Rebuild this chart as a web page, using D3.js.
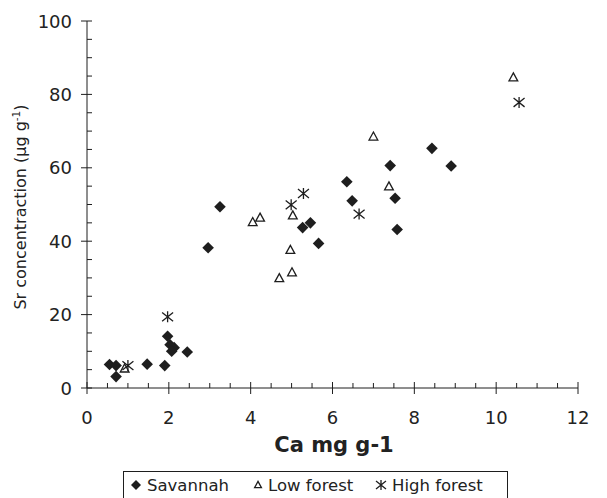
<!DOCTYPE html>
<html><head><meta charset="utf-8">
<script src="https://cdn.jsdelivr.net/npm/d3@7"></script>
<style>body{margin:0;background:#fff}svg{display:block}text{font-family:"DejaVu Sans",Verdana,sans-serif;fill:#222}</style>
</head><body><svg id="c" width="607" height="498"></svg>
<script>
const savannahCa = [0.55,0.71,0.71,1.47,1.90,1.97,2.03,2.13,2.07,2.45,2.96,3.25,5.27,5.46,5.66,6.35,6.48,7.41,7.53,7.58,8.43,8.90];
const savannahSr = [6.4,6.1,3.1,6.5,6.1,14.1,11.8,11.0,10.0,9.8,38.2,49.4,43.7,45.0,39.4,56.2,51.0,60.6,51.7,43.2,65.3,60.5];
const lowCa = [0.92,4.05,4.23,4.70,4.97,5.01,5.03,7.00,7.38,10.42];
const lowSr = [5.3,45.2,46.4,29.9,37.6,31.5,47.0,68.5,54.9,84.6];
const highCa = [1.00,1.97,4.99,5.29,6.65,10.56];
const highSr = [6.1,19.4,49.9,53.0,47.4,77.8];
const xTicks = [0,2,4,6,8,10,12];
const yTicks = [0,20,40,60,80,100];
const seriesNames = ["Savannah","Low forest","High forest"];

const svg = d3.select("#c");
const x = d3.scaleLinear().domain([0,12]).range([87,578]);
const y = d3.scaleLinear().domain([0,100]).range([388,21]);
const ink = "#1e1e1e";

// axes
const ax = svg.append("g").attr("stroke",ink).attr("stroke-width",1);
ax.append("line").attr("x1",x(0)).attr("x2",x(12)).attr("y1",y(0)).attr("y2",y(0));
ax.append("line").attr("x1",x(0)).attr("x2",x(0)).attr("y1",y(0)).attr("y2",y(100));
d3.range(0,12.01,0.5).forEach(v=>{
  const major = Math.abs(v%2)<1e-9;
  ax.append("line").attr("x1",x(v)).attr("x2",x(v))
    .attr("y1",major? y(0)-6 : y(0)-5).attr("y2",major? y(0)+6 : y(0));
});
d3.range(0,100.01,5).forEach(v=>{
  const major = v%20===0;
  ax.append("line").attr("y1",y(v)).attr("y2",y(v))
    .attr("x1",major? x(0)-6 : x(0)).attr("x2",x(0)+5);
});
svg.append("g").selectAll("text").data(xTicks).join("text")
  .attr("x",d=>x(d)).attr("y",y(0)+36).attr("text-anchor","middle")
  .attr("font-size",18).text(d=>d);
svg.append("g").selectAll("text").data(yTicks).join("text")
  .attr("x",x(0)-15).attr("y",d=>y(d)+6.5).attr("text-anchor","end")
  .attr("font-size",18).text(d=>d);

// titles
svg.append("text").attr("x",334).attr("y",452).attr("text-anchor","middle")
  .attr("font-size",21).attr("font-weight","bold").text("Ca mg g-1");
const yt = svg.append("text").attr("transform","translate(26,207) rotate(-90)")
  .attr("text-anchor","middle").attr("font-size",16);
yt.append("tspan").text("Sr concentraction (μg g");
yt.append("tspan").attr("font-size",10.5).attr("dy",-6).text("-1");
yt.append("tspan").attr("dy",6).text(")");

// markers
function diamond(g,cx,cy,r){g.append("path").attr("d",`M${cx},${cy-r}L${cx+r},${cy}L${cx},${cy+r}L${cx-r},${cy}Z`).attr("fill",ink);}
function tri(g,cx,cy,r){g.append("path").attr("d",`M${cx},${cy-r}L${cx+r*0.95},${cy+r*0.75}L${cx-r*0.95},${cy+r*0.75}Z`).attr("fill","#fff").attr("stroke",ink).attr("stroke-width",1.3);}
function star(g,cx,cy,r){g.append("path").attr("d",`M${cx},${cy-r}L${cx},${cy+r}M${cx-r},${cy-r*0.8}L${cx+r},${cy+r*0.8}M${cx-r},${cy+r*0.8}L${cx+r},${cy-r*0.8}`).attr("fill","none").attr("stroke",ink).attr("stroke-width",1.3);}

const mg = svg.append("g");
savannahCa.forEach((c,i)=>diamond(mg,x(c),y(savannahSr[i]),5.8));
lowCa.forEach((c,i)=>tri(mg,x(c),y(lowSr[i]),4.6));
highCa.forEach((c,i)=>star(mg,x(c),y(highSr[i]),5.5));

// legend
const lg = svg.append("g");
lg.append("rect").attr("x",123.5).attr("y",471.5).attr("width",384).attr("height",30)
  .attr("fill","#fff").attr("stroke",ink).attr("stroke-width",1);
const items = [{sx:136,tx:147,f:diamond,r:5},{sx:258,tx:268,f:tri,r:3.6},{sx:381,tx:392,f:star,r:5}];
items.forEach((it,i)=>{
  it.f(lg,it.sx,485,it.r);
  lg.append("text").attr("x",it.tx).attr("y",491).attr("font-size",16.5).text(seriesNames[i]);
});
</script></body></html>
